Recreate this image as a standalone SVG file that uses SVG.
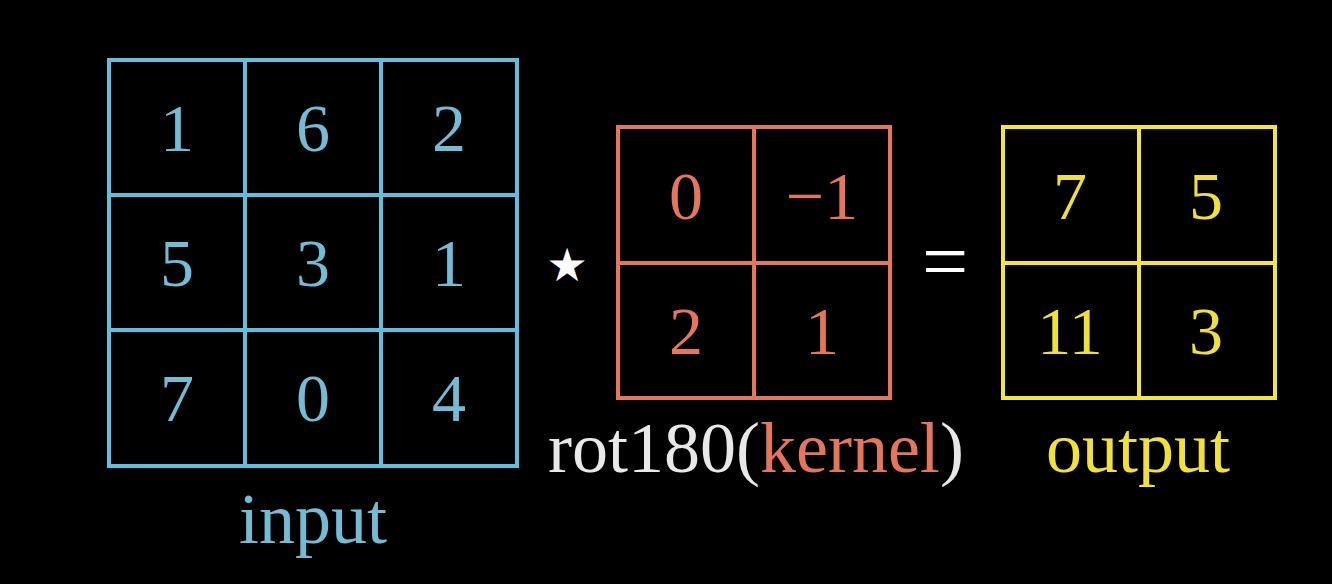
<svg xmlns="http://www.w3.org/2000/svg" width="1332" height="584" viewBox="0 0 1332 584">
<style>
.g{fill:none;stroke-width:4;stroke-linecap:square}
.d{font-family:"Liberation Serif","DejaVu Serif",serif;font-size:68px;text-anchor:middle}
.l{font-family:"Liberation Serif","DejaVu Serif",serif;font-size:72px}
.blue{stroke:#62bedb}
.red{stroke:#e4775b}
.yel{stroke:#f4e440}
</style>
<rect width="1332" height="584" fill="#000"/>
<g id="input">
<rect class="g blue" x="109" y="60" width="408" height="406"/>
<path class="g blue" d="M245 60V466M381 60V466M109 195H517M109 330H517"/>
<g class="d" fill="#74bcd6">
<text x="177" y="151">1</text><text x="313" y="151">6</text><text x="449" y="151">2</text>
<text x="177" y="286">5</text><text x="313" y="286">3</text><text x="449" y="286">1</text>
<text x="177" y="421">7</text><text x="313" y="421">0</text><text x="449" y="421">4</text>
</g>
<text class="l" x="313" y="543" text-anchor="middle" fill="#74bcd6">input</text>
</g>
<g id="star"><text x="567" y="281" font-family="DejaVu Sans,sans-serif" font-size="46" text-anchor="middle" fill="#fff">★</text></g>
<g id="kernel">
<rect class="g red" x="618" y="127" width="272" height="271"/>
<path class="g red" d="M754 127V398M618 263H890"/>
<g class="d" fill="#e4775b">
<text x="686" y="219">0</text><text x="822" y="219">−1</text>
<text x="686" y="354">2</text><text x="822" y="354">1</text>
</g>
<text class="l" x="548" y="472" fill="#e8e8e8">rot180(<tspan fill="#e4775b">kernel</tspan>)</text>
</g>
<g id="equals"><text x="945" y="289" font-family="Liberation Serif,serif" font-size="82" text-anchor="middle" fill="#fff">=</text></g>
<g id="output">
<rect class="g yel" x="1003" y="127" width="272" height="271"/>
<path class="g yel" d="M1139 127V398M1003 263H1275"/>
<g class="d" fill="#f0e03c">
<text x="1070" y="219">7</text><text x="1206" y="219">5</text>
<text x="1070" y="354">11</text><text x="1206" y="354">3</text>
</g>
<text class="l" x="1138" y="472" text-anchor="middle" fill="#f0e03c">output</text>
</g>
<g id="connectors"/>
</svg>
